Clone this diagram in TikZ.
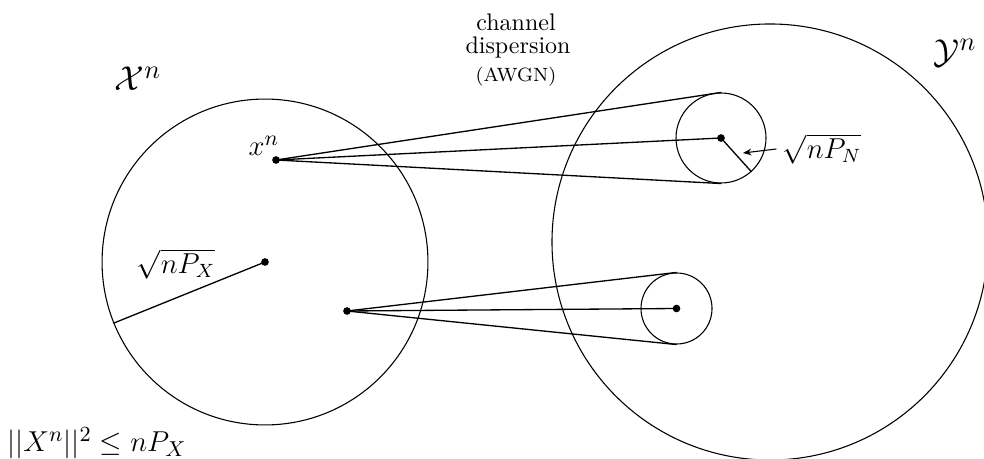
\documentclass[tikz,border=0pt]{standalone}
\usepackage{amsmath}
\usetikzlibrary{arrows.meta}
\begin{document}
\begin{tikzpicture}[x=0.4167pt,y=-0.4167pt,
  ring/.style={circle,draw,line width=0.45pt,inner sep=0pt},
  dot/.style={circle,fill,inner sep=0pt,minimum size=3.2pt},
  ray/.style={line width=0.55pt},
  lbl/.style={inner sep=0pt}]
\useasboundingbox (0,0) rectangle (984,459);
\clip (0,0) rectangle (984,459);
% spheres
\node[ring,minimum size=135.8pt] (X) at (265,262) {};
\node[ring,minimum size=181.7pt] (Y) at (770,242) {};
\node[ring,minimum size=37.5pt] (s1) at (721,138) {};
\node[ring,minimum size=29.6pt] (s2) at (676.5,308.5) {};
% points
\node[dot] (xn) at (276,160) {};
\node[dot] (x2) at (347,311) {};
\node[dot] (c0) at (X.center) {};
\node[dot] (y1) at (s1.center) {};
\node[dot] (y2) at (s2.center) {};
% cones
\draw[ray] (xn.center) -- (s1.north);
\draw[ray] (xn.center) -- (s1.south);
\draw[ray] (xn.center) -- (y1.center);
\draw[ray] (x2.center) -- (s2.north);
\draw[ray] (x2.center) -- (s2.south);
\draw[ray] (x2.center) -- (y2.center);
% radii
\draw[ray] (c0.center) -- (X.202);
\draw[ray] (y1.center) -- (s1.-48);
% labels
\node[lbl,font=\fontsize{15}{18}\selectfont] (LX) at (138,79) {$\mathcal{X}^n$};
\node[lbl,font=\fontsize{15}{18}\selectfont] (LY) at (955,53) {$\mathcal{Y}^n$};
\node[lbl,font=\fontsize{12.5}{15}\selectfont] (lx) at (264,146) {$x^n$};
\node[lbl,font=\large] (lpx) at (176,264) {$\sqrt{nP_X}$};
\node[lbl,font=\large] (lpn) at (822,149) {$\sqrt{nP_N}$};
\node[lbl,font=\fontsize{12.8}{15}\selectfont] (pw) at (97,443) {$||X^n||^2 \le nP_X$};
\node[lbl,anchor=base] (t1) at (516,31) {channel};
\node[lbl,anchor=base] (t2) at (518,54) {dispersion};
\node[lbl,anchor=base,font=\footnotesize] (t3) at (516,82) {(AWGN)};
\coordinate (tipN) at (743,153);
\draw[line width=0.45pt,-{Stealth[length=3.5pt,width=2.8pt]}] ([xshift=-2.5pt]lpn.west) -- (tipN);
\end{tikzpicture}
\end{document}
